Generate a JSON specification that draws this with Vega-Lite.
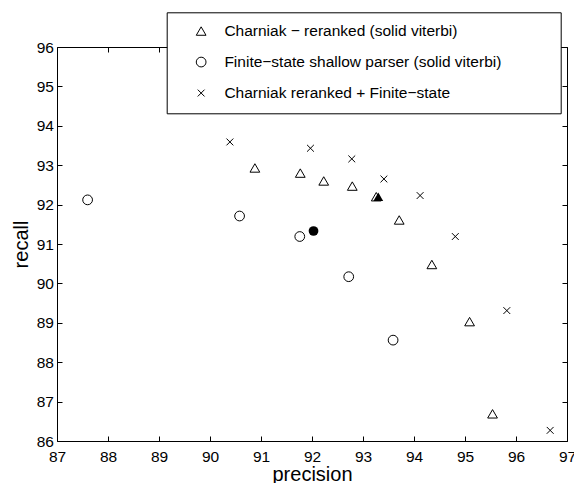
{
  "$schema": "https://vega.github.io/schema/vega-lite/v6.json",
  "width": 510,
  "height": 394,
  "autosize": "none",
  "padding": {"left": 57, "top": 47, "right": 7, "bottom": 42},
  "background": "white",
  "config": {
    "view": {"stroke": null},
    "font": "Liberation Sans",
    "axis": {
      "domainColor": "black",
      "tickColor": "black",
      "labelColor": "black",
      "titleColor": "black",
      "grid": false,
      "tickSize": -5,
      "labelFont": "Liberation Sans",
      "titleFont": "Liberation Sans",
      "labelFontSize": 15.5,
      "titleFontSize": 20,
      "titleFontWeight": "normal",
      "domainWidth": 1,
      "tickWidth": 1,
      "labelOverlap": false,
      "labelFlush": false
    }
  },
  "data": {
    "values": [
      {"series": "Charniak − reranked (solid viterbi)", "precision": 90.88, "recall": 92.93, "solid": false},
      {"series": "Charniak − reranked (solid viterbi)", "precision": 91.77, "recall": 92.8, "solid": false},
      {"series": "Charniak − reranked (solid viterbi)", "precision": 92.23, "recall": 92.6, "solid": false},
      {"series": "Charniak − reranked (solid viterbi)", "precision": 92.79, "recall": 92.47, "solid": false},
      {"series": "Charniak − reranked (solid viterbi)", "precision": 93.26, "recall": 92.2, "solid": false},
      {"series": "Charniak − reranked (solid viterbi)", "precision": 93.71, "recall": 91.61, "solid": false},
      {"series": "Charniak − reranked (solid viterbi)", "precision": 94.35, "recall": 90.48, "solid": false},
      {"series": "Charniak − reranked (solid viterbi)", "precision": 95.09, "recall": 89.03, "solid": false},
      {"series": "Charniak − reranked (solid viterbi)", "precision": 95.54, "recall": 86.69, "solid": false},
      {"series": "Charniak − reranked (solid viterbi)", "precision": 93.3, "recall": 92.2, "solid": true},
      {"series": "Finite−state shallow parser (solid viterbi)", "precision": 87.6, "recall": 92.12, "solid": false},
      {"series": "Finite−state shallow parser (solid viterbi)", "precision": 90.58, "recall": 91.71, "solid": false},
      {"series": "Finite−state shallow parser (solid viterbi)", "precision": 91.76, "recall": 91.19, "solid": false},
      {"series": "Finite−state shallow parser (solid viterbi)", "precision": 92.72, "recall": 90.17, "solid": false},
      {"series": "Finite−state shallow parser (solid viterbi)", "precision": 93.59, "recall": 88.56, "solid": false},
      {"series": "Finite−state shallow parser (solid viterbi)", "precision": 92.03, "recall": 91.33, "solid": true},
      {"series": "Charniak reranked + Finite−state", "precision": 90.39, "recall": 93.59, "solid": false},
      {"series": "Charniak reranked + Finite−state", "precision": 91.97, "recall": 93.43, "solid": false},
      {"series": "Charniak reranked + Finite−state", "precision": 92.78, "recall": 93.16, "solid": false},
      {"series": "Charniak reranked + Finite−state", "precision": 93.41, "recall": 92.65, "solid": false},
      {"series": "Charniak reranked + Finite−state", "precision": 94.12, "recall": 92.23, "solid": false},
      {"series": "Charniak reranked + Finite−state", "precision": 94.81, "recall": 91.19, "solid": false},
      {"series": "Charniak reranked + Finite−state", "precision": 95.82, "recall": 89.31, "solid": false},
      {"series": "Charniak reranked + Finite−state", "precision": 96.67, "recall": 86.27, "solid": false}
    ]
  },
  "layer": [
    {
      "transform": [{"filter": "!datum.solid"}],
      "mark": {"type": "point", "filled": false, "color": "black", "strokeWidth": 1, "size": 95, "opacity": 1},
      "encoding": {
        "x": {
          "field": "precision", "type": "quantitative",
          "scale": {"domain": [87, 97], "nice": false, "zero": false},
          "axis": {"orient": "bottom", "values": [87, 88, 89, 90, 91, 92, 93, 94, 95, 96, 97], "format": "d", "labelPadding": 13, "title": "precision", "titlePadding": 0}
        },
        "y": {
          "field": "recall", "type": "quantitative",
          "scale": {"domain": [86, 96], "nice": false, "zero": false},
          "axis": {"orient": "left", "values": [86, 87, 88, 89, 90, 91, 92, 93, 94, 95, 96], "format": "d", "labelPadding": 8.5, "title": "recall", "titlePadding": 5}
        },
        "shape": {
          "field": "series", "type": "nominal",
          "scale": {
            "domain": ["Charniak − reranked (solid viterbi)", "Finite−state shallow parser (solid viterbi)", "Charniak reranked + Finite−state"],
            "range": ["triangle-up", "circle", "M-0.7,-0.7L0.7,0.7M-0.7,0.7L0.7,-0.7"]
          },
          "legend": {
            "orient": "none",
            "legendX": 109.7,
            "legendY": -34.7,
            "title": null,
            "strokeColor": "black",
            "fillColor": "white",
            "padding": 11,
            "labelFont": "Liberation Sans",
            "labelFontSize": 15.5,
            "labelColor": "black",
            "labelLimit": 1000,
            "symbolSize": 95,
            "symbolStrokeWidth": 1,
            "symbolStrokeColor": "black",
            "symbolFillColor": "transparent",
            "symbolOffset": 15.7,
            "rowPadding": 14,
            "labelOffset": 15.5,
            "labelExpr": "datum.label + '\u00a0\u00a0\u00a0\u00a0\u00a0\u00a0\u00a0\u00a0\u00a0\u00a0\u00a0\u200b'"
          }
        }
      }
    },
    {
      "transform": [{"filter": "datum.solid"}],
      "mark": {"type": "point", "filled": true, "color": "black", "size": 95, "opacity": 1},
      "encoding": {
        "x": {"field": "precision", "type": "quantitative", "axis": null},
        "y": {"field": "recall", "type": "quantitative", "axis": null},
        "shape": {"field": "series", "type": "nominal", "legend": null}
      }
    },
    {
      "mark": {"type": "point", "opacity": 0},
      "encoding": {
        "x": {"field": "precision", "type": "quantitative", "axis": {"orient": "top", "values": [87, 88, 89, 90, 91, 92, 93, 94, 95, 96, 97], "labels": false, "title": null}},
        "y": {"field": "recall", "type": "quantitative", "axis": {"orient": "right", "values": [86, 87, 88, 89, 90, 91, 92, 93, 94, 95, 96], "labels": false, "title": null}}
      }
    }
  ],
  "resolve": {"axis": {"x": "independent", "y": "independent"}}
}
